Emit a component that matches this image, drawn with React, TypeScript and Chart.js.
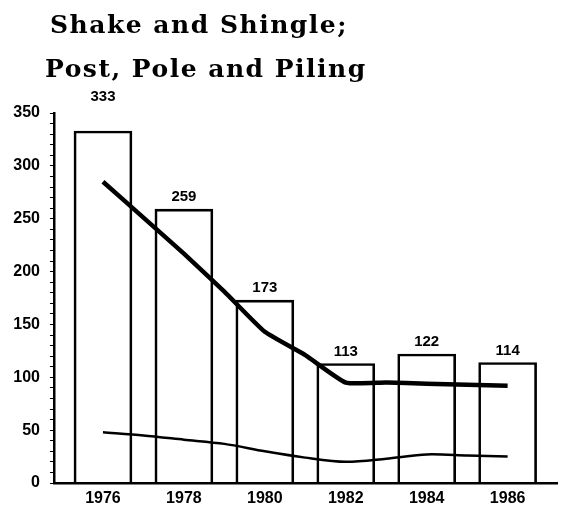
import React, { useEffect, useRef } from "react";
import { Chart, registerables } from "chart.js";

Chart.register(...registerables);

const titleLines = ["Shake and Shingle;", "Post, Pole and Piling"];
const barYears = [1976, 1978, 1980, 1982, 1984, 1986];
const barValues = [333, 259, 173, 113, 122, 114];
const lineYears = [1976, 1977, 1978, 1979, 1980, 1981, 1982, 1983, 1984, 1985, 1986];
const thickValues = [285, 251, 217, 181, 143, 121, 95, 95, 94, 93, 92];
const thinValues = [48, 45, 41, 37, 30, 24, 20, 23, 27, 26, 25];
const yTickStep = 50;

const titlePlugin = {
  id: "customTitle",
  afterDraw(chart: any) {
    const ctx = chart.ctx;
    ctx.save();
    ctx.fillStyle = "#000";
    ctx.font = 'bold 25px "DejaVu Serif"';
    try { (ctx as any).letterSpacing = "1.5px"; } catch (e) {}
    ctx.textAlign = "left";
    ctx.textBaseline = "alphabetic";
    ctx.fillText(titleLines[0], 50, 33);
    ctx.fillText(titleLines[1], 45, 77);
    ctx.restore();
  },
};

const barLabelPlugin = {
  id: "barLabels",
  afterDatasetsDraw(chart: any) {
    const ctx = chart.ctx;
    const meta = chart.getDatasetMeta(0);
    const area = chart.chartArea;
    ctx.save();
    ctx.fillStyle = "#000";
    ctx.font = 'bold 15px "Liberation Sans"';
    ctx.textAlign = "center";
    ctx.textBaseline = "middle";
    meta.data.forEach((el: any, i: number) => {
      let y = el.y - 12;
      if (y < area.top + 12) y = area.top - 16;
      ctx.fillText(String(barValues[i]), el.x, y);
    });
    ctx.restore();
  },
};

export default function App() {
  const ref = useRef<HTMLCanvasElement | null>(null);

  useEffect(() => {
    if (!ref.current) return;
    const chart = new Chart(ref.current, {
      type: "bar",
      data: {
        datasets: [
          {
            type: "bar",
            data: barYears.map((x, i) => ({ x, y: barValues[i] })),
            backgroundColor: "rgba(0,0,0,0)",
            borderColor: "#000",
            borderWidth: 2,
            barThickness: 58,
            order: 2,
          } as any,
          {
            type: "line",
            data: lineYears.map((x, i) => ({ x, y: thickValues[i] })),
            borderColor: "#000",
            borderWidth: 4.5,
            pointRadius: 0,
            tension: 0.15,
            fill: false,
            order: 1,
          } as any,
          {
            type: "line",
            data: lineYears.map((x, i) => ({ x, y: thinValues[i] })),
            borderColor: "#000",
            borderWidth: 2.5,
            pointRadius: 0,
            tension: 0.3,
            fill: false,
            order: 1,
          } as any,
        ],
      },
      options: {
        animation: false,
        responsive: false,
        devicePixelRatio: 1,
        layout: { padding: { top: 113, right: 9, left: 0, bottom: 0 } },
        plugins: {
          legend: { display: false },
          title: { display: false },
          tooltip: { enabled: false },
        },
        scales: {
          x: {
            type: "linear",
            offset: false,
            min: 1974.79,
            max: 1987.22,
            afterBuildTicks: (scale: any) => {
              scale.ticks = barYears.map((v) => ({ value: v }));
            },
            afterFit: (scale: any) => {
              scale.height = 25;
            },
            grid: { display: true, drawOnChartArea: false, drawTicks: false },
            border: { display: true, color: "#000", width: 2.5 },
            ticks: {
              color: "#000",
              font: { family: "Liberation Sans", size: 16, weight: "bold" },
              padding: 6,
              autoSkip: false,
              maxRotation: 0,
              callback: (v: any) => String(v),
            },
          },
          y: {
            min: 0,
            max: 350,
            afterFit: (scale: any) => {
              scale.width = 54;
            },
            grid: {
              display: true,
              drawOnChartArea: false,
              drawTicks: true,
              tickLength: 4,
              color: "#000",
              lineWidth: 1,
            },
            border: { display: true, color: "#000", width: 2.5 },
            ticks: {
              stepSize: 10,
              autoSkip: false,
              color: "#000",
              padding: 10,
              font: { family: "Liberation Sans", size: 16, weight: "bold" },
              callback: (v: any) => (Number(v) % yTickStep === 0 ? String(v) : ""),
            },
          },
        },
      },
      plugins: [titlePlugin, barLabelPlugin],
    } as any);
    return () => chart.destroy();
  }, []);

  return (
    <div style={{ position: "fixed", left: 0, top: 0, width: 566, height: 508, background: "#fff" }}>
      <canvas ref={ref} width={566} height={508} style={{ display: "block", width: 566, height: 508 }} />
    </div>
  );
}
